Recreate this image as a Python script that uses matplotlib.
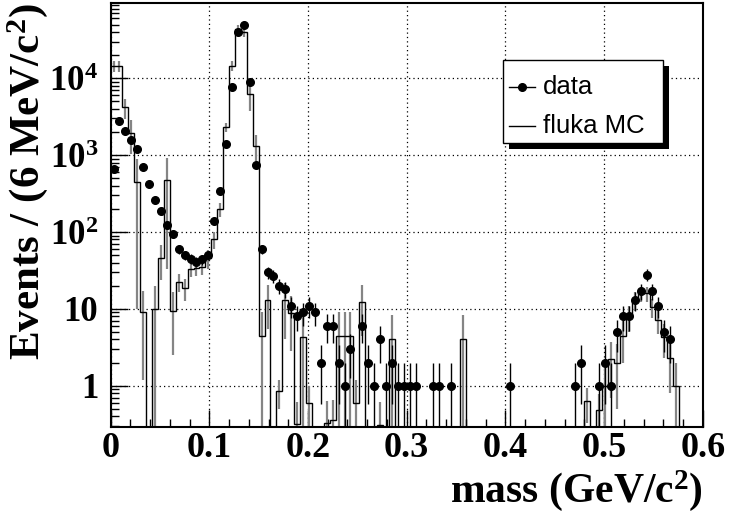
import numpy as np
import matplotlib
matplotlib.use("Agg")
import matplotlib.pyplot as plt
from matplotlib.patches import Rectangle
from matplotlib.lines import Line2D
from matplotlib.ticker import FixedLocator, MultipleLocator, LogLocator, NullFormatter

plt.rcParams['mathtext.fontset'] = 'custom'
plt.rcParams['mathtext.rm'] = 'Liberation Serif:bold'
plt.rcParams['mathtext.bf'] = 'Liberation Serif:bold'
plt.rcParams['mathtext.it'] = 'Liberation Serif:bold:italic'
plt.rcParams['mathtext.default'] = 'rm'

# ---------------- data ----------------
mass_lo, mass_hi, n_bins = 0.0, 0.6, 100

data_counts = [
    655, 2800, 2060, 1570, 1210, 708, 425, 258, 186, 123,
    94, 60, 50, 45, 41, 44, 50, 140, 340, 1400,
    7640, 39700, 49400, 9030, 738, 60, 30, 27, 20, 18,
    11, 8, 9, 11, 9, 2, 6, 6, 2, 1,
    3, 0, 6, 2, 1, 4, 1, 2, 1, 1,
    1, 1, 0, 0, 1, 1, 0, 1, 0, 0,
    0, 0, 0, 0, 0, 0, 0, 1, 0, 0,
    0, 0, 0, 0, 0, 0, 0, 0, 1, 2,
    0, 0, 1, 2, 1, 5, 8, 8, 13, 17,
    28, 17, 11, 5, 4, 0, 0, 0, 0, 0,
]

mc_counts = [
    14500, 14500, 4170, 1950, 450, 9.2, 0, 10, 46, 473,
    9.5, 22.7, 18.6, 32.7, 34, 35, 45.5, 81, 197, 2300,
    14600, 43500, 40400, 6250, 1330, 4.5, 13, 0, 0.85, 13,
    8.8, 0.32, 4.3, 0.6, 0, 0, 0.33, 0.36, 4.5, 4.5,
    4.5, 0.6, 12.4, 0, 0, 0.31, 0, 4.1, 0, 0,
    0, 0, 0, 0, 0, 0, 0, 0, 0, 4.1,
    0, 0, 0, 0, 0, 0, 0, 0, 0, 0,
    0, 0, 0, 0, 0, 0, 0, 0, 0, 0,
    0.63, 0, 0.49, 1.0, 2.2, 2.0, 4.5, 8.0, 13, 15.9,
    15.9, 10.5, 7.2, 4.3, 2.3, 1.0, 0, 0, 0, 0,
]

mc_errors = [
    2500, 2500, 1200, 900, 440, 8, 0, 10, 22, 440,
    7, 6, 6, 7, 7, 7, 12, 20, 40, 300,
    2000, 6000, 6000, 2500, 500, 4.5, 7.5, 0, 0.35, 9,
    6, 0.3, 4, 0.4, 0, 0, 0.3, 0.3, 4.5, 4.5,
    4.5, 0.6, 8, 0, 0, 0.3, 0, 4.2, 0, 0,
    0, 0, 0, 0, 0, 0, 0, 0, 0, 4.2,
    0, 0, 0, 0, 0, 0, 0, 0, 0, 0,
    0, 0, 0, 0, 0, 0, 0, 0, 0, 0,
    0.3, 0, 0.3, 0.7, 1.5, 1.5, 2.5, 3, 3.5, 3.5,
    3.5, 3, 2.5, 2, 1.5, 1, 0, 0, 0, 0,
]

x_tick_values = [0.0, 0.1, 0.2, 0.3, 0.4, 0.5, 0.6]
x_tick_labels = ['0', '0.1', '0.2', '0.3', '0.4', '0.5', '0.6']
y_tick_values = [1, 10, 100, 1000, 10000]
y_tick_labels = ['1', '10', '$10^{2}$', '$10^{3}$', '$10^{4}$']
legend_labels = ['data', 'fluka MC']
x_title = 'mass (GeV/c$^{2}$)'
y_title = 'Events / (6 MeV/c$^{2}$)'

# ---------------- plot ----------------
W, H = 729, 512
fig = plt.figure(figsize=(W / 100, H / 100), dpi=100)
fig.patch.set_facecolor('white')
ax_l, ax_r, ax_t, ax_b = 110.6, 702.8, 3.3, 426.7
ax = fig.add_axes([ax_l / W, 1 - ax_b / H, (ax_r - ax_l) / W, (ax_b - ax_t) / H])
ax.set_yscale('log')
ax.set_xlim(mass_lo, mass_hi)
ax.set_ylim(0.293, 9.46e4)

edges = np.linspace(mass_lo, mass_hi, n_bins + 1)
centers = 0.5 * (edges[:-1] + edges[1:])
floor = 1e-3

mc = np.array(mc_counts, float)
mce = np.array(mc_errors, float)
ax.stairs(np.where(mc > 0, mc, floor), edges, baseline=None, color='black', lw=1.0, zorder=3)
m = mc > 0
ax.vlines(centers[m], np.maximum(mc[m] - mce[m], floor), mc[m] + mce[m],
          color='#858585', lw=1.6, zorder=2)

d = np.array(data_counts, float)
k = d > 0
derr = np.sqrt(d[k])
ax.vlines(centers[k], np.maximum(d[k] - derr, floor), d[k] + derr, color='black', lw=1.0, zorder=4)
ax.plot(centers[k], d[k], 'o', color='black', ms=5.5, zorder=5)

# axes styling
ax.xaxis.set_major_locator(FixedLocator(x_tick_values))
ax.xaxis.set_minor_locator(MultipleLocator(0.02))
ax.set_xticklabels(x_tick_labels)
ax.yaxis.set_major_locator(FixedLocator(y_tick_values))
ax.yaxis.set_minor_locator(LogLocator(base=10, subs=np.arange(2, 10)))
ax.yaxis.set_minor_formatter(NullFormatter())
ax.set_yticklabels(y_tick_labels)
ax.tick_params(which='both', direction='in', top=False, right=False, width=1)
ax.tick_params(which='major', length=12)
ax.tick_params(which='minor', length=6)
ax.tick_params(axis='x', pad=4)
ax.tick_params(axis='y', pad=9)
for lab in ax.get_xticklabels():
    lab.set_fontfamily('Liberation Serif')
    lab.set_fontweight('bold')
    lab.set_fontsize(26)
for lab in ax.get_yticklabels():
    lab.set_fontfamily('Liberation Serif')
    lab.set_fontweight('bold')
    lab.set_fontsize(25)
for s in ax.spines.values():
    s.set_linewidth(1.5)
ax.grid(True, which='major', linestyle=(0, (1, 2.5)), color='black', lw=0.9)

ax.set_xlabel(x_title, fontfamily='Liberation Serif', fontweight='bold', fontsize=30, loc='right')
ax.xaxis.set_label_coords(1.0, -(468 - ax_b) / (ax_b - ax_t))
ax.set_ylabel(y_title, fontfamily='Liberation Serif', fontweight='bold', fontsize=31, loc='top')
ax.yaxis.set_label_coords((50 - ax_l) / (ax_r - ax_l), 1.0)

# legend (ROOT-style box with shadow)
def fx(px):
    return px / W

def fy(py):
    return 1 - py / H

bx0, by0, bx1, by1 = 502.7, 60.0, 663.3, 143.3
sh = 6
fig.add_artist(Rectangle((fx(bx0 + sh), fy(by1 + sh)), fx(bx1) - fx(bx0), fy(by0) - fy(by1),
                         transform=fig.transFigure, facecolor='black', edgecolor='black', lw=0, zorder=10))
fig.add_artist(Rectangle((fx(bx0), fy(by1)), fx(bx1) - fx(bx0), fy(by0) - fy(by1),
                         transform=fig.transFigure, facecolor='white', edgecolor='black', lw=1.0, zorder=11))
rows_y = [86.7, 126.0]
fig.add_artist(Line2D([fx(509), fx(535)], [fy(rows_y[0])] * 2, transform=fig.transFigure,
                      color='black', lw=1.0, zorder=12))
fig.add_artist(Line2D([fx(522)], [fy(rows_y[0])], transform=fig.transFigure, marker='o',
                      color='black', ms=5.5, zorder=12))
fig.add_artist(Line2D([fx(509), fx(535)], [fy(rows_y[1])] * 2, transform=fig.transFigure,
                      color='black', lw=1.0, zorder=12))
for lbl, yy in zip(legend_labels, rows_y):
    fig.text(fx(542.7), fy(yy), lbl, ha='left', va='center', fontsize=18.5,
             fontfamily='Liberation Sans', zorder=12)

fig.savefig('out.png', dpi=100)
